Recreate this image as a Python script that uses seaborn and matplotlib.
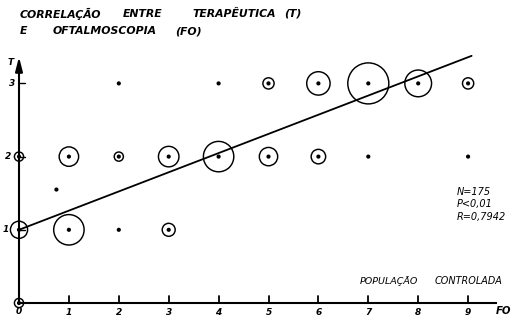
import matplotlib
matplotlib.use("Agg")
import matplotlib.pyplot as plt
import seaborn as sns
import pandas as pd
import numpy as np

# Cross-tabulation of fundoscopy grade (FO) against therapy class (T);
# ring area is proportional to the number of patients in each cell.
fo_grade = [7, 8, 6, 5, 9, 4, 5, 6, 1, 3, 2, 0, 1, 0, 3, 0, 2, 4, 7, 9, 2, 0.75]
therapy = [3, 3, 3, 3, 3, 2, 2, 2, 2, 2, 2, 2, 1, 1, 1, 0, 3, 3, 2, 2, 1, 1.55]
patients = [40, 17, 13, 3, 3, 22, 8, 5, 9, 10, 2, 2, 22, 7, 4, 2, 1, 1, 1, 1, 1, 1]

# Published regression line T = a + b * FO
intercept = 1.0
slope = 0.262
fit_range = [0.0, 9.07]

x_ticks = [1, 2, 3, 4, 5, 6, 7, 8, 9]
y_ticks = [1, 2, 3]
stats_text = ["N=175", "P<0,01", "R=0,7942"]

sns.set_theme(style="white")
plt.rcParams["font.family"] = ["DejaVu Sans"]

df = pd.DataFrame({"FO": fo_grade, "T": therapy, "n": patients})
rings = df[df["n"] >= 2]

W, H = 514, 320
fig = plt.figure(figsize=(W / 100, H / 100), dpi=100)
ax = fig.add_axes([0, 0, 1, 1])
px_x, px_y = 49.9, 73.2
x0_px, y0_px = 19, 303
ax.set_xlim(-x0_px / px_x, (W - x0_px) / px_x)
ax.set_ylim(-(H - y0_px) / px_y, y0_px / px_y)
ax.axis("off")

# area per patient, in points^2
unit = 21.8
sns.scatterplot(data=rings, x="FO", y="T", size="n",
                sizes=(unit * rings["n"].min(), unit * rings["n"].max()),
                size_norm=(rings["n"].min(), rings["n"].max()),
                facecolor="none", edgecolor="black", linewidth=1.05,
                legend=False, ax=ax, zorder=3)
sns.scatterplot(data=df, x="FO", y="T", s=9, color="black",
                edgecolor="none", legend=False, ax=ax, zorder=4)

line_df = pd.DataFrame({"FO": fit_range,
                        "T": [intercept + slope * v for v in fit_range]})
sns.lineplot(data=line_df, x="FO", y="T", color="black", linewidth=1.3,
             ax=ax, zorder=2)

# Axes drawn by hand with arrow heads
ax.plot([0, 0], [0, 3.2], color="black", lw=1.5, zorder=1, solid_capstyle="butt")
ax.annotate("", xy=(0, 3.40), xytext=(0, 3.15),
            arrowprops=dict(arrowstyle="-|>,head_length=0.7,head_width=0.18",
                            color="black", lw=1.5))
ax.plot([0, 9.57], [0, 0], color="black", lw=1.5, zorder=1, solid_capstyle="butt")

hand = dict(fontweight="bold", fontstyle="italic", color="black")
for t in x_ticks:
    ax.plot([t, t], [0, 0.1], color="black", lw=1.3)
    ax.text(t, -0.125, str(t), ha="center", va="center", fontsize=6.5, **hand)
ax.text(0, -0.115, "0", ha="center", va="center", fontsize=6.5, **hand)
for t in y_ticks:
    ax.plot([0, 0.12], [t, t], color="black", lw=1.0)
ylab_x = {1: -0.27, 2: -0.22, 3: -0.14}
for t in y_ticks:
    ax.text(ylab_x[t], t, str(t), ha="center", va="center", fontsize=6.5, **hand)
ax.text(-0.17, (y0_px - 62) / px_y, "T", ha="center", va="center", fontsize=6.5, **hand)
ax.text((496 - x0_px) / px_x, -0.11, "FO", ha="left", va="center", fontsize=7.3, **hand)

# Title, two lines of spaced capitals
def fig_text(x, y, s, **kw):
    fig.text(x / W, 1 - y / H, s, **kw)

for x, word in [(20, "CORRELAÇÃO"), (123, "ENTRE"), (192, "TERAPÊUTICA"), (284, "(T)")]:
    fig_text(x, 14, word, ha="left", va="center", fontsize=7.8, **hand)
for x, word in [(20, "E"), (53, "OFTALMOSCOPIA"), (175, "(FO)")]:
    fig_text(x, 31, word, ha="left", va="center", fontsize=7.8, **hand)

for i, s in enumerate(stats_text):
    fig_text(457, 192 + 12.5 * i, s, ha="left", va="center", fontsize=7,
             fontstyle="italic", color="black")
fig_text(360, 281, "POPULAÇÃO", ha="left", va="center", fontsize=6.8,
         fontstyle="italic", color="black")
fig_text(435, 281, "CONTROLADA", ha="left", va="center", fontsize=6.9,
         fontstyle="italic", color="black")

fig.savefig("out.png", dpi=100, facecolor="white")
